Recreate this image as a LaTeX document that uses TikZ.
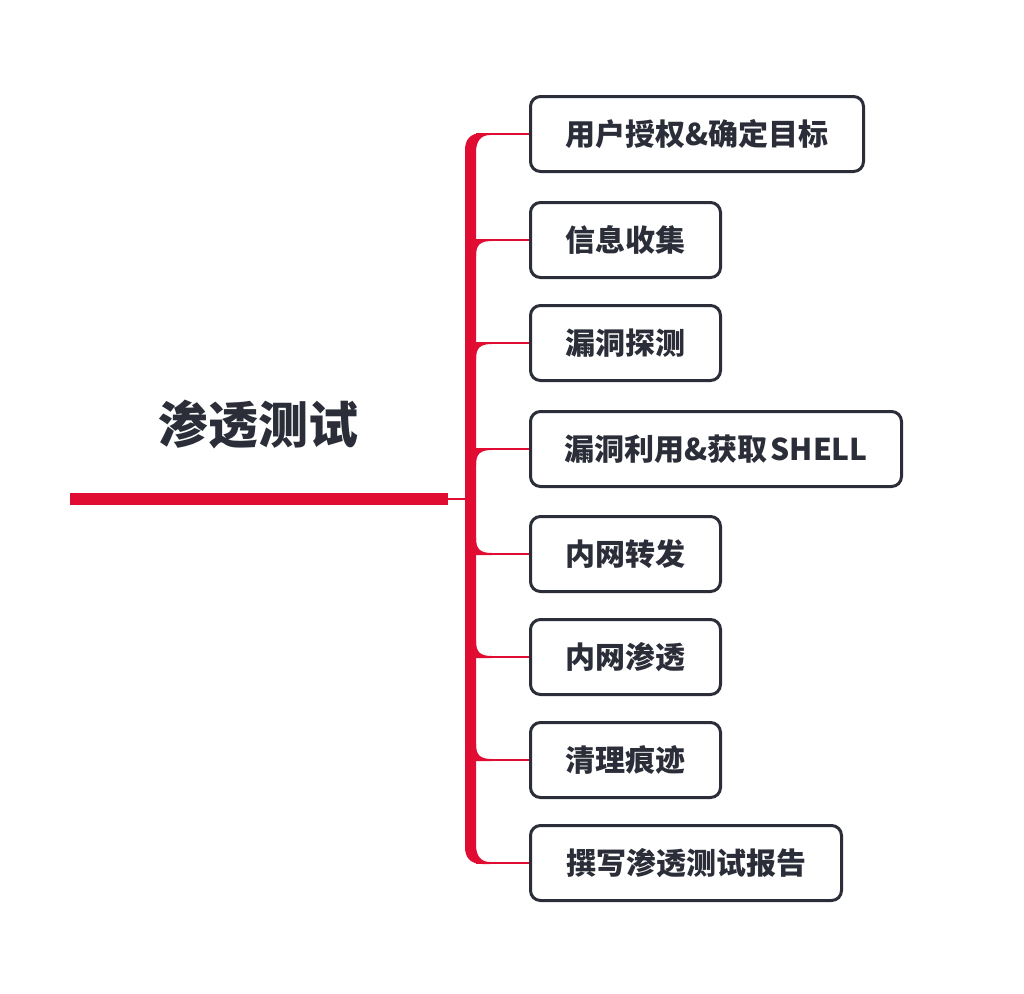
\documentclass[tikz,border=0pt]{standalone}
\usepackage{fontspec}
\setmainfont{Noto Sans CJK SC}
\definecolor{xred}{RGB}{225,12,50}
\definecolor{ink}{RGB}{43,46,56}
\tikzset{
  box/.style={draw=ink, line width=2.25pt, rounded corners=7.5pt, fill=white,
    font=\bfseries\fontsize{22.5}{26}\selectfont, text=ink, minimum height=56.25pt,
    anchor=west, align=center, inner sep=0pt},
  thin/.style={draw=xred, line width=1.5pt},
  title/.style={font=\bfseries\fontsize{37.5}{42}\selectfont, text=ink}
}
\begin{document}
\begin{tikzpicture}[x=0.75pt,y=-0.75pt]
\useasboundingbox[fill=white] (0,0) rectangle (1024,993);
% boxes
\node[box, minimum width=249.75pt] (b1) at (529,134) {用户授权\&确定目标};
\node[box, minimum width=142.5pt] (b2) at (529,240) {信息收集};
\node[box, minimum width=142.5pt] (b3) at (529,343) {漏洞探测};
\node[box, minimum width=278.25pt] (b4) at (529,449) {漏洞利用\&获取\hspace{2.5pt}SHELL};
\node[box, minimum width=142.5pt] (b5) at (529,554) {内网转发};
\node[box, minimum width=142.5pt] (b6) at (529,657) {内网渗透};
\node[box, minimum width=142.5pt] (b7) at (529,760) {清理痕迹};
\node[box, minimum width=233.25pt] (b8) at (529,863) {撰写渗透测试报告};
% title
\node[title] (t) at (258,425) {渗透测试};
% root line
\coordinate (root) at (448,499);
\coordinate (hub) at (465,499);
\fill[xred] (70,493) rectangle (448,505);
\draw[thin] (root) -- (hub);
% trunk with top and bottom corners
\fill[xred] (465,499) -- (465,150) .. controls (465,140) and (470,133) .. (482,133)
  -- (490,133) -- (490,135) .. controls (482,135) and (476,140) .. (476,152) -- (476,499) -- cycle;
\fill[xred] (465,499) -- (465,847) .. controls (465,857) and (470,864) .. (482,864)
  -- (490,864) -- (490,862) .. controls (482,862) and (476,857) .. (476,845) -- (476,499) -- cycle;
% fillets
\foreach \y in {240,343,449}{
  \fill[xred] (476,\y+16) .. controls (476,\y+5) and (480,\y+1) .. (492,\y+1) -- (492,\y-1) -- (476,\y-1) -- cycle;
}
\foreach \y in {554,657,760}{
  \fill[xred] (476,\y-16) .. controls (476,\y-5) and (480,\y-1) .. (492,\y-1) -- (492,\y+1) -- (476,\y+1) -- cycle;
}
% connectors
\foreach \i/\y in {1/134,2/240,3/343,4/449,5/554,6/657,7/760,8/863}{
  \coordinate (k\i) at (476,\y);
  \draw[thin] (k\i) -- (b\i.west);
}
\end{tikzpicture}
\end{document}
